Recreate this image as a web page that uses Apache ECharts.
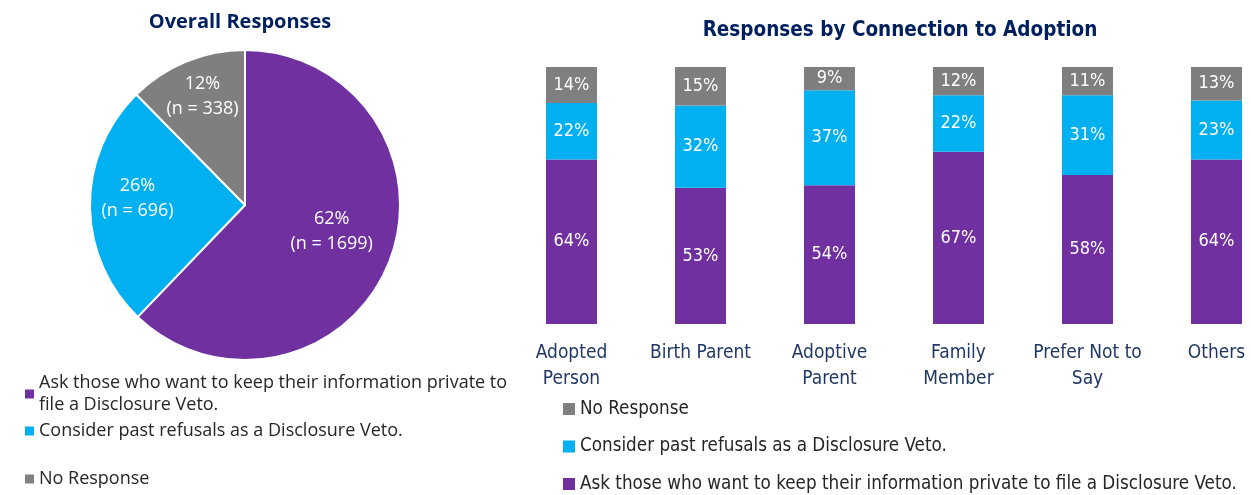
<!DOCTYPE html>
<html>
<head>
<meta charset="utf-8">
<script src="https://cdn.jsdelivr.net/npm/echarts@6/dist/echarts.min.js"></script>
<style>
  html, body { margin: 0; padding: 0; background: #ffffff; overflow: hidden; }
  #chart { width: 1282px; height: 495px; }
</style>
</head>
<body>
<div id="chart"></div>
<script>
// Response options (shared by both charts)
const optionAsk = 'Ask those who want to keep their information private to file a Disclosure Veto.';
const optionPast = 'Consider past refusals as a Disclosure Veto.';
const optionNone = 'No Response';

// Overall responses (counts)
const overallNames = [optionAsk, optionPast, optionNone];
const overallCounts = [1699, 696, 338];
const overallPercents = [62, 26, 12];

// Responses by connection to adoption (percent)
const connections = ['Adopted\nPerson', 'Birth Parent', 'Adoptive\nParent', 'Family\nMember', 'Prefer Not to\nSay', 'Others'];
const askPct = [64, 53, 54, 67, 58, 64];
const pastPct = [22, 32, 37, 22, 31, 23];
const nonePct = [14, 15, 9, 12, 11, 13];

const PURPLE = '#7030A0';
const CYAN = '#00B0F0';
const GREY = '#7F7F7F';
const NAVY = '#002060';
const LABEL_BLUE = '#1F3864';

const sansFont = '"Open Sans", Lato, sans-serif';
const narrowFont = '"Liberation Sans Narrow", "DejaVu Sans Condensed", sans-serif';

const sliceColors = [PURPLE, CYAN, GREY];
const sliceLabelOffsets = [[12, -4], [-27, -7], [-12, -34]];

const chart = echarts.init(document.getElementById('chart'), null, { renderer: 'canvas' });

const pieData = overallNames.map((name, i) => ({
  name: name,
  value: overallCounts[i],
  pct: overallPercents[i],
  itemStyle: { color: sliceColors[i] },
  label: { offset: sliceLabelOffsets[i] }
}));

const barLabel = {
  show: true,
  position: 'inside',
  color: '#ffffff',
  fontFamily: narrowFont,
  fontSize: 18,
  formatter: p => p.value + '%'
};

const pieLegendText = { fontFamily: sansFont, fontSize: 18, color: '#262626', lineHeight: 22 };

chart.setOption({
  animation: false,
  title: [
    {
      text: 'Overall Responses',
      left: 235, top: 7, textAlign: 'center',
      textStyle: { fontFamily: sansFont, fontWeight: 'bold', fontSize: 20, color: NAVY }
    },
    {
      text: 'Responses by Connection to Adoption',
      left: 895, top: 15, textAlign: 'center',
      textStyle: { fontFamily: narrowFont, fontWeight: 'bold', fontSize: 20.5, color: NAVY }
    }
  ],
  legend: [
    {
      data: [optionAsk], left: 20, top: 367, orient: 'vertical',
      icon: 'rect', itemWidth: 9, itemHeight: 9, selectedMode: false,
      formatter: n => n.replace(' to file', ' to\nfile'),
      textStyle: pieLegendText
    },
    {
      data: [optionPast], left: 20, top: 415, orient: 'vertical',
      icon: 'rect', itemWidth: 9, itemHeight: 9, selectedMode: false,
      textStyle: pieLegendText
    },
    {
      data: [optionNone], left: 20, top: 463, orient: 'vertical',
      icon: 'rect', itemWidth: 9, itemHeight: 9, selectedMode: false,
      textStyle: pieLegendText
    },
    {
      data: [optionNone, optionPast, optionAsk], left: 558, top: 399, orient: 'vertical',
      padding: [0, 5, 0, 5], height: 100,
      icon: 'rect', itemWidth: 12, itemHeight: 12, itemGap: 17.5, selectedMode: false,
      textStyle: { fontFamily: narrowFont, fontSize: 18.7, color: '#262626', lineHeight: 20 }
    }
  ],
  grid: { left: 507, top: 67, width: 774, height: 257, containLabel: false },
  xAxis: {
    type: 'category',
    data: connections,
    axisLine: { show: false },
    axisTick: { show: false },
    axisLabel: {
      color: LABEL_BLUE, fontFamily: narrowFont, fontSize: 19, lineHeight: 26,
      margin: 16, interval: 0
    }
  },
  yAxis: { type: 'value', min: 0, max: 100, show: false },
  series: [
    {
      type: 'pie',
      center: [245, 205],
      radius: 155,
      startAngle: 90,
      clockwise: true,
      data: pieData,
      itemStyle: { borderColor: '#ffffff', borderWidth: 2 },
      label: {
        show: true, position: 'inside', color: '#ffffff',
        fontFamily: sansFont, fontSize: 18, lineHeight: 25,
        formatter: p => p.data.pct + '%\n(n = ' + p.value + ')'
      },
      labelLine: { show: false },
      emphasis: { disabled: true }
    },
    {
      name: optionAsk, type: 'bar', stack: 'total', data: askPct,
      barWidth: 51, itemStyle: { color: PURPLE }, label: barLabel
    },
    {
      name: optionPast, type: 'bar', stack: 'total', data: pastPct,
      barWidth: 51, itemStyle: { color: CYAN }, label: barLabel
    },
    {
      name: optionNone, type: 'bar', stack: 'total', data: nonePct,
      barWidth: 51, itemStyle: { color: GREY }, label: barLabel
    }
  ]
});
</script>
</body>
</html>
